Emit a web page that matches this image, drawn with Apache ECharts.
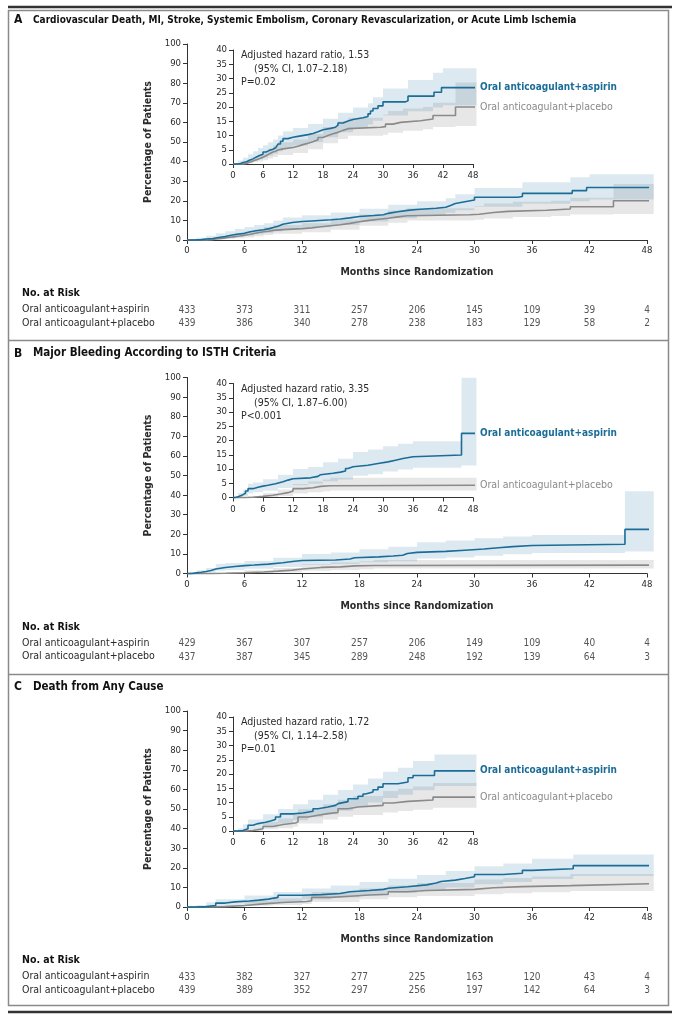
<!DOCTYPE html>
<html><head><meta charset="utf-8">
<script src="https://cdn.jsdelivr.net/npm/echarts@6/dist/echarts.min.js"></script>
<style>html,body{margin:0;padding:0;background:#fff}#c{width:677px;height:1024px}</style>
</head><body><div id="c"></div>
<script>
// ---------- data ----------
const xTicks = [0, 6, 12, 18, 24, 30, 36, 42, 48];
const seriesNames = ['Oral anticoagulant+aspirin', 'Oral anticoagulant+placebo'];
const panelLetters = ['A', 'B', 'C'];
const panelTitles = [
  'Cardiovascular Death, MI, Stroke, Systemic Embolism, Coronary Revascularization, or Acute Limb Ischemia',
  'Major Bleeding According to ISTH Criteria',
  'Death from Any Cause'
];
const hazardLines = [
  ['Adjusted hazard ratio, 1.53', '(95% CI, 1.07\u20132.18)', 'P=0.02'],
  ['Adjusted hazard ratio, 3.35', '(95% CI, 1.87\u20136.00)', 'P<0.001'],
  ['Adjusted hazard ratio, 1.72', '(95% CI, 1.14\u20132.58)', 'P=0.01']
];

// Panel A: [month, cumulative %]
const aAspirin = [[0,0],[0.7,0.2],[1.5,0.5],[2,0.8],[2.7,1.3],[3.3,1.8],[4,2.4],[4.6,2.9],[5.2,3.4],[6,4.2],[6.6,4.7],[7.2,5.2],[8,5.8],[8.6,6.4],[9,7],[9.5,8],[10,8.9],[11,9.4],[12,9.7],[13,10.3],[15,10.7],[16,11.3],[17,12],[18,12.5],[19.5,12.9],[20.5,13.6],[21,14.4],[22,15.1],[23,15.6],[24,16.2],[26,16.7],[27,17.6],[27.5,18.6],[28,19.5],[29,20.4],[30,21.8],[34.5,22.2],[35,23.8],[40.2,25.2],[41.7,26.8],[48.7,26.8]];
const aPlacebo = [[0,0],[2,0.2],[2.6,0.5],[3,0.8],[3.6,1.1],[4,1.4],[4.5,1.7],[5,2],[5.5,2.4],[6,2.8],[6.5,3.3],[7,3.8],[7.5,4.2],[8,4.5],[8.5,4.9],[9,5.3],[10,5.8],[12,6.2],[13,6.8],[14,7.3],[15,7.8],[16,8.5],[17,9.3],[18,10],[19,10.6],[20,11.1],[21,11.8],[22,12.4],[23,12.9],[29.5,13.1],[30.5,14],[32,14.6],[33.5,15.2],[37.5,15.8],[40,17],[44.5,20],[48.7,20]];
// [month, lower, upper]
const aAspirinCI = [[0,0,0],[1,0,1.2],[2,0.2,2.2],[3,0.6,3.4],[4,1.1,4.5],[5,1.7,5.6],[6,2.3,6.6],[7,2.9,7.6],[8,3.6,8.6],[9,4.5,10],[10,5.7,11.5],[12,6.5,12.6],[15,7.7,14],[18,9.4,15.9],[21,11.1,18],[24,12.7,19.8],[27,13.9,21.3],[28,15.2,23.4],[30,17,26.5],[35,18.5,29.5],[40,19.8,32],[42,20.6,33.6],[48.7,20.6,33.6]];
const aPlaceboCI = [[0,0,0],[2,0,0.6],[3,0.2,1.6],[4,0.6,2.4],[5,0.9,3.3],[6,1.3,4.2],[7,1.9,5.4],[8,2.5,6.6],[9,3.2,7.6],[12,3.9,8.6],[15,5.2,10.5],[18,7.3,13],[21,8.8,15],[23,9.9,16.2],[30,10.3,17.4],[31,11,18.6],[34,11.7,19.5],[38,12.2,20],[40,13,21.5],[44.5,13.3,28.6],[48.7,13.3,28.6]];
const aRiskAspirin = [433, 373, 311, 257, 206, 145, 109, 39, 4];
const aRiskPlacebo = [439, 386, 340, 278, 238, 183, 129, 58, 2];

// Panel B
const bAspirin = [[0,0],[0.5,0.3],[1,0.6],[1.5,1],[2,1.5],[2.5,2.3],[3,3.1],[4,3.6],[5,4],[6,4.3],[7,4.8],[8.5,5.5],[10,6.1],[11,6.6],[12,6.9],[15.5,7.4],[17,8],[17.5,8.5],[20,8.9],[21.5,9.3],[22.5,10.2],[23,10.8],[24,11.3],[27,11.9],[29,12.5],[31,13.1],[32.5,13.7],[34,14.3],[36,14.9],[45.7,22.5],[48.7,22.5]];
const bPlacebo = [[0,0],[2.5,0.1],[4,0.4],[6,0.8],[8,1.2],[9.5,1.7],[11,2.3],[12,3.1],[14,3.4],[16,3.9],[17.5,4.1],[19.5,4.3],[48.7,4.3]];
const bAspirinCI = [[0,0,0],[1,0.1,1.6],[2,0.5,2.8],[3,1.4,4.8],[4,1.8,5.3],[6,2.4,6.4],[9,3.3,8],[12,4.3,10],[15,4.8,10.7],[18,5.7,12.4],[21,6.3,13.6],[24,7.6,16],[27,8.2,16.8],[30,9.1,18],[33,9.8,18.9],[36,10.4,19.7],[45.7,11.2,42],[48.7,11.2,42]];
const bPlaceboCI = [[0,0,0],[3,0,0.5],[6,0.2,1.6],[9,0.5,2.8],[12,1.4,4.7],[15,1.8,5.6],[18,2.2,6.3],[19.5,2.5,6.9],[48.7,2.5,6.9]];
const bRiskAspirin = [429, 367, 307, 257, 206, 149, 109, 40, 4];
const bRiskPlacebo = [437, 387, 345, 289, 248, 192, 139, 64, 3];

// Panel C
const cAspirin = [[0,0],[1,0.2],[2,0.8],[3,2],[4,2.6],[5,3.1],[6.5,3.5],[7.5,4],[8.5,4.9],[9.5,6],[12,6.3],[14,6.9],[16,7.8],[17,8.4],[19,9],[20.5,9.6],[21,10.3],[23,11.3],[25,12.2],[26,13],[26.5,13.7],[28,14.5],[29,15.4],[30,16.6],[33,17.2],[35,18.7],[36,19.5],[40.3,21.1],[48.7,21.1]];
const cPlacebo = [[0,0],[2.5,0.2],[4,0.8],[6,1.6],[8,2.3],[10,2.8],[12.5,3.2],[13,4.9],[15,5.5],[17,6.1],[19,6.5],[21,7.8],[23,8.4],[25,9],[30,9.8],[32,10.4],[35,10.9],[40,11.9],[48.7,11.9]];
const cAspirinCI = [[0,0,0],[1,0,1],[2,0.2,2.4],[3,0.7,4],[6,1.6,5.9],[9,2.6,7.7],[12,3.8,9.4],[15,4.8,11],[18,5.9,12.7],[21,7.1,14.4],[24,8.5,16.3],[27,10,18.4],[30,11.6,20.8],[33,12.7,22.2],[36,14.3,24.6],[40.3,15.8,26.8],[48.7,15.8,26.8]];
const cPlaceboCI = [[0,0,0],[3,0,0.8],[6,0.6,3.2],[9,1,4.4],[12,1.5,5.6],[13,2.6,7.6],[18,4,9.4],[21,5,11],[24,5.6,12.3],[30,6.5,14],[33,7,14.8],[36,7.5,15.6],[40,8.2,16.8],[48.7,8.2,16.8]];
const cRiskAspirin = [433, 382, 327, 277, 225, 163, 120, 43, 4];
const cRiskPlacebo = [439, 389, 352, 297, 256, 197, 142, 64, 3];

// ---------- build ----------
const panels = [
  {asp: aAspirin, pla: aPlacebo, aspCI: aAspirinCI, plaCI: aPlaceboCI, rAsp: aRiskAspirin, rPla: aRiskPlacebo},
  {asp: bAspirin, pla: bPlacebo, aspCI: bAspirinCI, plaCI: bPlaceboCI, rAsp: bRiskAspirin, rPla: bRiskPlacebo},
  {asp: cAspirin, pla: cPlacebo, aspCI: cAspirinCI, plaCI: cPlaceboCI, rAsp: cRiskAspirin, rPla: cRiskPlacebo}
];
const FONT = "'Liberation Sans Narrow','DejaVu Sans Condensed',sans-serif";
const BLUE = '#1b6d97', GRAY = '#8a8a8a';
const BLUE_BAND = 'rgba(27,109,151,0.15)', GRAY_BAND = 'rgba(110,110,110,0.17)';
const TXT = '#2b2b2b';
const offs = [0, 333.5, 667];
const titleSizes = [10, 11.5, 11.5];

const grids = [], xAxes = [], yAxes = [], series = [], graphics = [];

function axisCommon() {
  return {
    axisLine: {show: true, onZero: false, lineStyle: {color: '#333', width: 1}},
    axisTick: {show: true, length: 4, inside: false, lineStyle: {color: '#333', width: 1}},
    axisLabel: {show: true, color: TXT, fontSize: 9.5, fontFamily: FONT},
    splitLine: {show: false}
  };
}

function bandSeries(band, color, xi, yi) {
  return {
    type: 'custom', xAxisIndex: xi, yAxisIndex: yi, silent: true, clip: false, z: 1,
    data: band, encode: {x: 0, y: [1, 2]},
    renderItem: function (params, api) {
      if (params.dataIndex !== 0) return null;
      const pts = [];
      for (let i = 0; i < band.length - 1; i++) {
        pts.push(api.coord([band[i][0], band[i][2]]));
        pts.push(api.coord([band[i + 1][0], band[i][2]]));
      }
      for (let i = band.length - 2; i >= 0; i--) {
        pts.push(api.coord([band[i + 1][0], band[i][1]]));
        pts.push(api.coord([band[i][0], band[i][1]]));
      }
      return {type: 'polygon', shape: {points: pts}, style: {fill: color}};
    }
  };
}

function lineSeries(name, data, color, xi, yi, withEnd) {
  const s = {
    name: name, type: 'line', xAxisIndex: xi, yAxisIndex: yi, data: data, step: 'end',
    symbol: 'none', clip: false, silent: true, z: 3,
    lineStyle: {color: color, width: 1.6}
  };
  if (withEnd) {
    const isBlue = color === BLUE;
    s.endLabel = {show: true, formatter: name, color: color, fontSize: isBlue ? 10 : 10.5, fontFamily: FONT,
      fontWeight: isBlue ? 'bold' : 'normal', distance: 5};
  }
  return s;
}

panels.forEach(function (p, k) {
  const dy = offs[k];
  const gi = grids.length;
  grids.push({left: 187, top: 44 + dy, width: 460, height: 196});
  grids.push({left: 233, top: 50 + dy, width: 240, height: 114});
  grids.push({left: 187, top: 310 + dy, width: 460, height: 13.5});

  const mx = Object.assign(axisCommon(), {
    gridIndex: gi, type: 'value', min: 0, max: 48, interval: 6,
    name: 'Months since Randomization', nameLocation: 'middle', nameGap: 27,
    nameTextStyle: {fontWeight: 'bold', fontSize: 10.5, color: TXT, fontFamily: FONT}
  });
  mx.axisLabel.margin = 6;
  const my = Object.assign(axisCommon(), {
    gridIndex: gi, type: 'value', min: 0, max: 100, interval: 10,
    name: 'Percentage of Patients', nameLocation: 'middle', nameGap: 29, nameRotate: 90,
    nameTextStyle: {fontWeight: 'bold', fontSize: 10.5, color: TXT, fontFamily: FONT}
  });
  my.axisLabel.margin = 6;
  const ix = Object.assign(axisCommon(), {gridIndex: gi + 1, type: 'value', min: 0, max: 48, interval: 6});
  ix.axisLabel.margin = 7;
  const iy = Object.assign(axisCommon(), {gridIndex: gi + 1, type: 'value', min: 0, max: 40, interval: 5});
  iy.axisLabel.margin = 6;
  const rx = {gridIndex: gi + 2, type: 'value', min: 0, max: 48, show: false};
  const ry = {gridIndex: gi + 2, type: 'value', min: 0, max: 1, show: false};
  xAxes.push(mx, ix, rx);
  yAxes.push(my, iy, ry);

  [[gi, gi, false], [gi + 1, gi + 1, true]].forEach(function (g) {
    series.push(bandSeries(p.plaCI, GRAY_BAND, g[0], g[1]));
    series.push(bandSeries(p.aspCI, BLUE_BAND, g[0], g[1]));
    series.push(lineSeries(seriesNames[1], p.pla, GRAY, g[0], g[1], g[2]));
    series.push(lineSeries(seriesNames[0], p.asp, BLUE, g[0], g[1], g[2]));
  });

  const riskData = [];
  xTicks.forEach(function (t, i) {
    riskData.push([t, 1, p.rAsp[i]]);
    riskData.push([t, 0, p.rPla[i]]);
  });
  series.push({
    type: 'scatter', xAxisIndex: gi + 2, yAxisIndex: gi + 2, data: riskData, symbolSize: 1,
    itemStyle: {color: 'rgba(0,0,0,0)'}, silent: true,
    label: {show: true, position: 'inside', formatter: function (d) { return String(d.value[2]); },
      color: TXT, fontSize: 10, fontFamily: FONT}
  });

  graphics.push({type: 'text', left: 14, top: 14 + dy, style: {text: panelLetters[k], font: 'bold 12px ' + FONT, fill: '#111'}});
  graphics.push({type: 'text', left: 33, top: (k === 0 ? 15 : 14) + dy, style: {text: panelTitles[k], font: 'bold ' + titleSizes[k] + 'px ' + FONT, fill: '#111'}});
  const hz = hazardLines[k];
  graphics.push({type: 'text', left: 241, top: 50 + dy, style: {text: hz[0], font: '10.5px ' + FONT, fill: TXT}});
  graphics.push({type: 'text', left: 254, top: 64 + dy, style: {text: hz[1], font: '10.5px ' + FONT, fill: TXT}});
  graphics.push({type: 'text', left: 241, top: 77 + dy, style: {text: hz[2], font: '10.5px ' + FONT, fill: TXT}});
  graphics.push({type: 'text', left: 22, top: 288 + dy, style: {text: 'No. at Risk', font: 'bold 10.5px ' + FONT, fill: '#111'}});
  graphics.push({type: 'text', left: 22, top: 304 + dy, style: {text: seriesNames[0], font: '10.5px ' + FONT, fill: TXT}});
  graphics.push({type: 'text', left: 22, top: 317.5 + dy, style: {text: seriesNames[1], font: '10.5px ' + FONT, fill: TXT}});
});

graphics.push({type: 'line', shape: {x1: 8, y1: 7, x2: 672, y2: 7}, style: {stroke: '#333', lineWidth: 2.5}});
graphics.push({type: 'rect', shape: {x: 8.5, y: 10.5, width: 660, height: 995}, style: {fill: 'none', stroke: '#8a8a8a', lineWidth: 1.5}});
graphics.push({type: 'line', shape: {x1: 8.5, y1: 340.5, x2: 668.5, y2: 340.5}, style: {stroke: '#8a8a8a', lineWidth: 1.5}});
graphics.push({type: 'line', shape: {x1: 8.5, y1: 674.5, x2: 668.5, y2: 674.5}, style: {stroke: '#8a8a8a', lineWidth: 1.5}});
graphics.push({type: 'line', shape: {x1: 8, y1: 1012, x2: 672, y2: 1012}, style: {stroke: '#333', lineWidth: 2.5}});

const chart = echarts.init(document.getElementById('c'), null, {renderer: 'canvas'});
chart.setOption({
  animation: false,
  backgroundColor: '#fff',
  textStyle: {fontFamily: FONT},
  grid: grids, xAxis: xAxes, yAxis: yAxes, series: series,
  graphic: graphics
});
</script>
</body></html>
